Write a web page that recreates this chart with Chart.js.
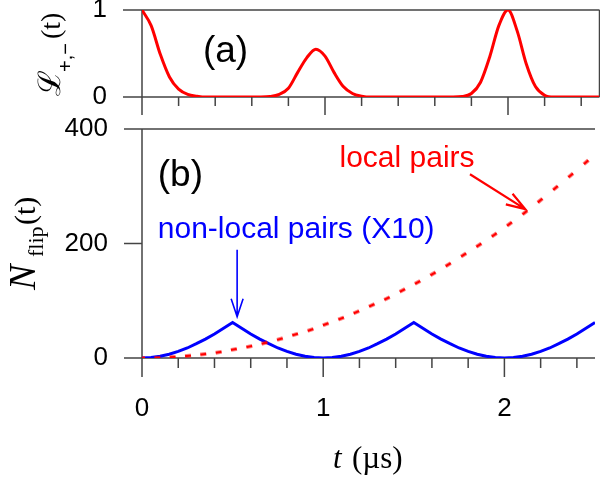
<!DOCTYPE html>
<html lang="en">
<head>
<meta charset="UTF-8">
<title>Flip counts</title>
<script src="https://cdn.jsdelivr.net/npm/chart.js@4"></script>
<style>
  html, body { margin: 0; padding: 0; background: #fff; }
  #wrap { position: relative; width: 600px; height: 482px; overflow: hidden; }
  #wrap canvas { position: absolute; left: 0; }
</style>
</head>
<body>
<div id="wrap">
  <canvas id="chartA" width="600" height="150" style="top:-20px"></canvas>
  <canvas id="chartB" width="600" height="382" style="top:100px"></canvas>
</div>
<script>
// ---- data ----
const tMin = 0, tMax = 2.5;
const xMajor = [0, 1, 2];
const xMinor = [0.2, 0.4, 0.6, 0.8, 1.2, 1.4, 1.6, 1.8, 2.2, 2.4];
const yTicksA = [0, 1];
const yTicksB = [0, 200, 400];

// sample grid (µs)
const tGrid = [0, 0.05, 0.1, 0.15, 0.2, 0.25, 0.3, 0.35, 0.4, 0.45,
  0.5, 0.55, 0.6, 0.65, 0.7, 0.75, 0.8, 0.85, 0.9, 0.95,
  1, 1.05, 1.1, 1.15, 1.2, 1.25, 1.3, 1.35, 1.4, 1.45,
  1.5, 1.55, 1.6, 1.65, 1.7, 1.75, 1.8, 1.85, 1.9, 1.95,
  2, 2.05, 2.1, 2.15, 2.2, 2.25, 2.3, 2.35, 2.4, 2.45, 2.5];

// (a) L+,-(t)
const echo = [1.0, 0.82, 0.49, 0.23, 0.09, 0.03, 0.01, 0, 0, 0,
  0, 0, 0, 0, 0.005, 0.03, 0.1, 0.28, 0.45, 0.55,
  0.47, 0.28, 0.12, 0.04, 0.01, 0, 0, 0, 0, 0,
  0, 0, 0, 0, 0, 0.005, 0.04, 0.17, 0.46, 0.82,
  1.0, 0.76, 0.38, 0.12, 0.02, 0, 0, 0, 0, 0,
  0];

// (b) non-local pairs, scaled x10
const nonLocal = [0, 0.8, 3, 6.5, 11.5, 17.5, 25, 33, 42, 52,
  62, 52, 42, 33, 25, 17.5, 11.5, 6.5, 3, 0.8,
  0, 0.8, 3, 6.5, 11.5, 17.5, 25, 33, 42, 52,
  62, 52, 42, 33, 25, 17.5, 11.5, 6.5, 3, 0.8,
  0, 0.8, 3, 6.5, 11.5, 17.5, 25, 33, 42, 52,
  62];

// (b) local pairs (dotted)
const tLocal = [0, 0.085, 0.169, 0.254, 0.338, 0.423, 0.507, 0.592, 0.676, 0.761,
  0.845, 0.93, 1.014, 1.099, 1.183, 1.268, 1.352, 1.437, 1.521, 1.606,
  1.69, 1.775, 1.859, 1.944, 2.028, 2.113, 2.197, 2.282, 2.366, 2.451];
const local = [0, 0.4, 1.6, 3.7, 6.5, 10, 15, 20, 26, 33,
  41, 49, 59, 69, 80, 92, 104, 118, 132, 147,
  163, 180, 197, 215, 234, 254, 275, 297, 319, 342];

// ---- styling ----
const sans = '"Liberation Sans", Arial, Helvetica, sans-serif';
const serif = '"Liberation Serif", "Times New Roman", serif';
const RED = '#ff0000', BLUE = '#0000ff', AXIS = '#444';

// frame lines and outward tick marks, placed through the scales
const axesFrame = {
  id: 'axesFrame',
  beforeDatasetsDraw(chart, args, o) {
    const { ctx, chartArea: a, scales: { x, y } } = chart;
    ctx.save();
    ctx.strokeStyle = AXIS;
    ctx.lineWidth = 1.5;
    ctx.beginPath();
    ctx.moveTo(a.left, a.top); ctx.lineTo(a.left, a.bottom);
    ctx.moveTo(a.left, a.bottom); ctx.lineTo(a.right, a.bottom);
    if (o.top) { ctx.moveTo(a.left, a.top); ctx.lineTo(a.right, a.top); }
    if (o.right) { ctx.moveTo(a.right, a.top); ctx.lineTo(a.right, a.bottom); }
    for (const v of o.yTicks) {
      const py = y.getPixelForValue(v);
      ctx.moveTo(a.left - o.yLen, py); ctx.lineTo(a.left, py);
    }
    for (const v of xMajor) {
      const px = x.getPixelForValue(v);
      ctx.moveTo(px, a.bottom); ctx.lineTo(px, a.bottom + o.majorLen);
    }
    for (const v of xMinor) {
      const px = x.getPixelForValue(v);
      ctx.moveTo(px, a.bottom); ctx.lineTo(px, a.bottom + o.minorLen);
    }
    ctx.stroke();
    ctx.restore();
  }
};

function arrow(ctx, x0, y0, x1, y1, color, head, width) {
  const ang = Math.atan2(y1 - y0, x1 - x0);
  const spread = 0.32;
  ctx.save();
  ctx.strokeStyle = color;
  ctx.lineWidth = width;
  ctx.beginPath();
  ctx.moveTo(x0, y0); ctx.lineTo(x1, y1);
  ctx.moveTo(x1 - head * Math.cos(ang - spread), y1 - head * Math.sin(ang - spread));
  ctx.lineTo(x1, y1);
  ctx.lineTo(x1 - head * Math.cos(ang + spread), y1 - head * Math.sin(ang + spread));
  ctx.stroke();
  ctx.restore();
}

// text pieces written bottom-to-top along a rotated baseline
function rotatedLabel(ctx, x, y, parts) {
  ctx.save();
  ctx.translate(x, y);
  ctx.rotate(-Math.PI / 2);
  ctx.fillStyle = '#000';
  ctx.textBaseline = 'alphabetic';
  ctx.textAlign = 'left';
  for (const p of parts) {
    ctx.font = p.font;
    ctx.fillText(p.text, p.at, p.shift || 0);
  }
  ctx.restore();
}

// notes placed in data units: [t, value]
const notesA = [{ text: '(a)', at: [0.333, 0.40], color: '#000', size: 37 }];
const notesB = [
  { text: '(b)', at: [0.087, 300], color: '#000', size: 37 },
  { text: 'non-local pairs (X10)', at: [0.087, 209], color: BLUE, size: 30 },
  { text: 'local pairs', at: [1.09, 334], color: RED, size: 30 }
];
const arrowsB = [
  { from: [0.525, 189], to: [0.525, 72], color: BLUE, head: 19, width: 1.6 },
  { from: [1.81, 321], to: [2.115, 260], color: RED, head: 20, width: 2.2 }
];

const notes = {
  id: 'notes',
  afterDatasetsDraw(chart, args, o) {
    const { ctx, scales: { x, y } } = chart;
    ctx.save();
    ctx.textBaseline = 'alphabetic';
    ctx.textAlign = 'left';
    for (const n of o.texts || []) {
      ctx.font = n.size + 'px ' + sans;
      ctx.fillStyle = n.color;
      ctx.fillText(n.text, x.getPixelForValue(n.at[0]), y.getPixelForValue(n.at[1]));
    }
    ctx.restore();
    for (const r of o.arrows || []) {
      arrow(ctx, x.getPixelForValue(r.from[0]), y.getPixelForValue(r.from[1]),
        x.getPixelForValue(r.to[0]), y.getPixelForValue(r.to[1]), r.color, r.head, r.width);
    }
  },
  afterDraw(chart, args, o) {
    if (o.draw) o.draw(chart.ctx);
  }
};

// short red dash used as the marker of the dotted curve
const dash = document.createElement('canvas');
dash.width = 8; dash.height = 4;
(function () {
  const g = dash.getContext('2d');
  g.fillStyle = RED;
  g.fillRect(1, 0.5, 6, 3);
})();

function dashAngle(c) {
  const ch = c.chart, i = c.dataIndex, n = tLocal.length;
  const xs = ch.scales.x, ys = ch.scales.y;
  const a = Math.max(i - 1, 0), b = Math.min(i + 1, n - 1);
  const dx = xs.getPixelForValue(tLocal[b]) - xs.getPixelForValue(tLocal[a]);
  const dy = ys.getPixelForValue(local[b]) - ys.getPixelForValue(local[a]);
  return Math.atan2(dy, dx) * 180 / Math.PI;
}

// the tick marks themselves come from axesFrame; tickLength here only
// pushes the labels away from the axis
function xScale(height, showLabels) {
  return {
    type: 'linear', min: tMin, max: tMax,
    grid: { display: false, drawTicks: true, tickLength: 35 },
    border: { display: false },
    ticks: { display: showLabels, color: '#000', padding: 0, font: { family: sans, size: 26 } },
    afterBuildTicks: s => { s.ticks = xMajor.map(v => ({ value: v })); },
    afterFit: s => { s.height = height; }
  };
}

function yScale(min, max, ticks, gap) {
  return {
    min, max,
    grid: { display: false, drawTicks: true, tickLength: gap },
    border: { display: false },
    ticks: { color: '#000', padding: 0, font: { family: sans, size: 26 } },
    afterBuildTicks: s => { s.ticks = ticks.map(v => ({ value: v })); },
    afterFit: s => { s.width = 142; }
  };
}

const common = {
  responsive: false,
  animation: false,
  events: [],
  plugins: { legend: { display: false }, tooltip: { enabled: false } }
};

new Chart(document.getElementById('chartA'), {
  type: 'line',
  data: {
    datasets: [{
      data: tGrid.map((t, i) => ({ x: t, y: echo[i] })),
      borderColor: RED, borderWidth: 3, pointRadius: 0,
      cubicInterpolationMode: 'monotone'
    }]
  },
  options: {
    ...common,
    layout: { padding: { top: 30, right: 0.5, left: 0, bottom: 0 } },
    scales: { x: xScale(33, false), y: yScale(0, 1, yTicksA, 35) },
    plugins: {
      ...common.plugins,
      axesFrame: { top: true, right: true, yTicks: yTicksA, yLen: 19, majorLen: 18, minorLen: 9 },
      notes: {
        texts: notesA,
        draw: ctx => rotatedLabel(ctx, 60, 116, [
          { text: '\u2112', font: '31px "DejaVu Serif", serif', at: 0 },
          { text: '+,\u2212', font: '20px ' + sans, at: 24, shift: 12 },
          { text: '(t)', font: '28px ' + serif, at: 57 }
        ])
      }
    }
  },
  plugins: [axesFrame, notes]
});

new Chart(document.getElementById('chartB'), {
  type: 'line',
  data: {
    datasets: [{
      data: tLocal.map((t, i) => ({ x: t, y: local[i] })),
      showLine: false,
      pointStyle: dash, pointRadius: 3, rotation: dashAngle
    }, {
      data: tGrid.map((t, i) => ({ x: t, y: nonLocal[i] })),
      borderColor: BLUE, borderWidth: 3, pointRadius: 0, tension: 0
    }]
  },
  options: {
    ...common,
    layout: { padding: { top: 29, right: 0.5, left: 0, bottom: 0 } },
    scales: { x: xScale(124, true), y: yScale(0, 400, yTicksB, 34) },
    plugins: {
      ...common.plugins,
      axesFrame: { top: true, right: false, yTicks: yTicksB, yLen: 18, majorLen: 19, minorLen: 10 },
      notes: {
        texts: notesB,
        arrows: arrowsB,
        draw: ctx => {
          rotatedLabel(ctx, 35, 190, [
            { text: 'N', font: 'italic 38px ' + serif, at: 0 },
            { text: 'flip', font: '22px ' + serif, at: 33, shift: 8 },
            { text: '(t)', font: '30px ' + serif, at: 65 }
          ]);
          ctx.save();
          ctx.fillStyle = '#000';
          ctx.textBaseline = 'alphabetic';
          ctx.font = 'italic 31px ' + serif;
          ctx.fillText('t', 333, 368);
          ctx.font = '31px ' + serif;
          ctx.fillText('(\u00b5s)', 352, 368);
          ctx.restore();
        }
      }
    }
  },
  plugins: [axesFrame, notes]
});
</script>
</body>
</html>
